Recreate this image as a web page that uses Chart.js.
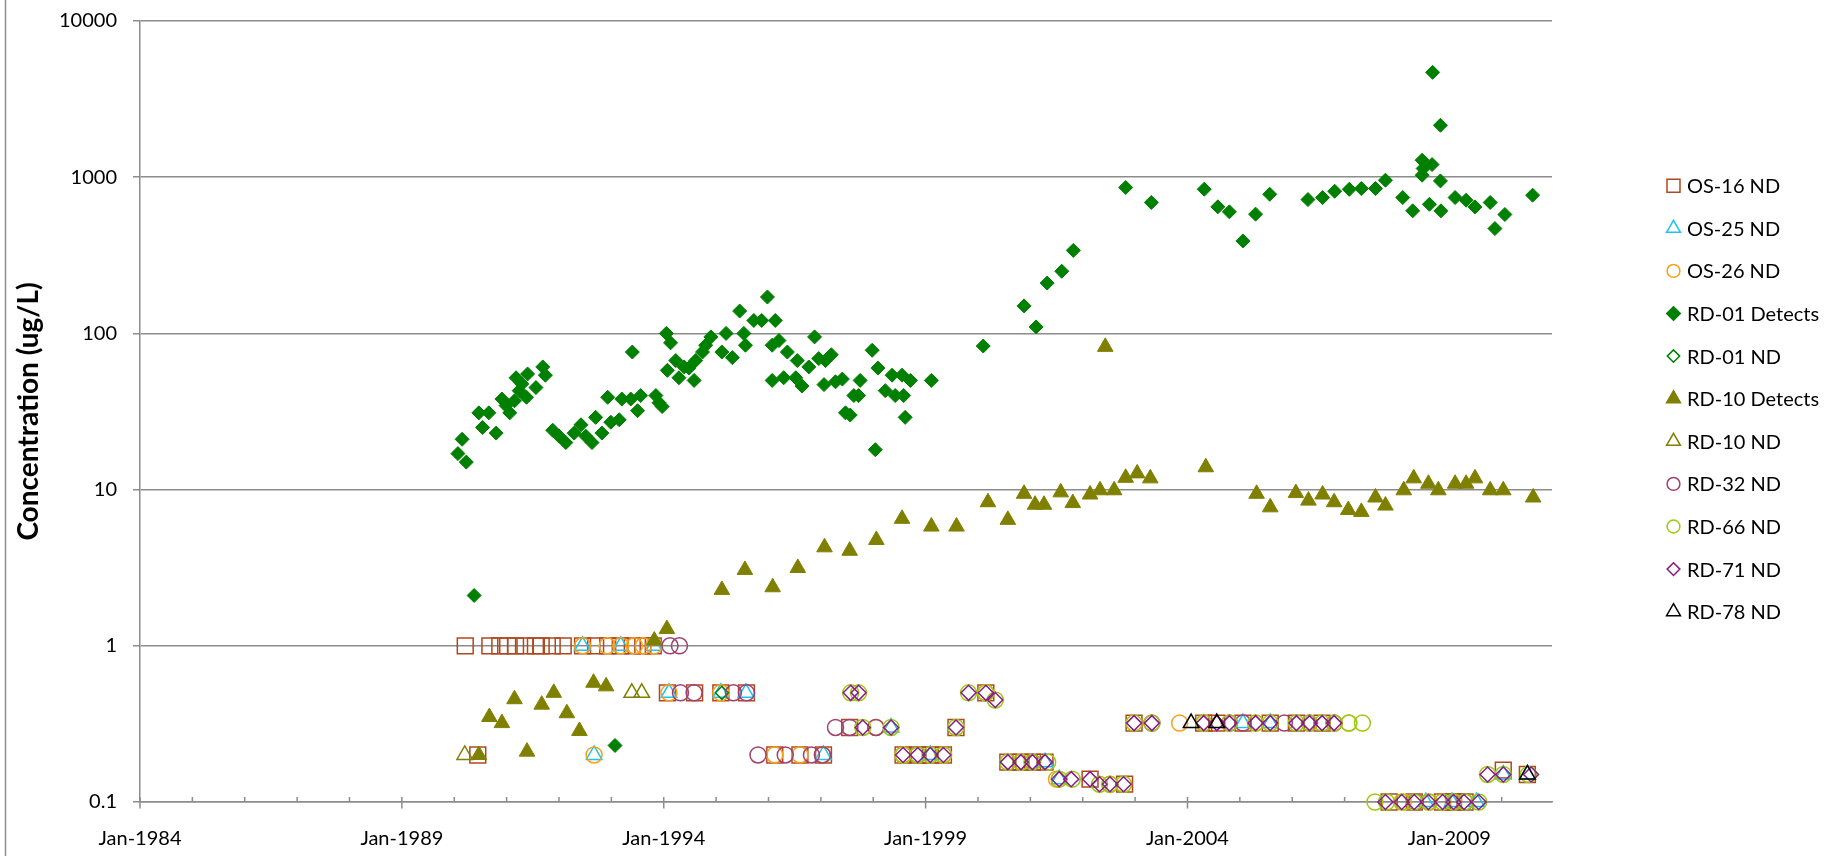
<!DOCTYPE html>
<html>
<head>
<meta charset="utf-8">
<title>Concentration</title>
<script src="https://cdn.jsdelivr.net/npm/chart.js@4.4.1/dist/chart.umd.min.js"></script>
<style>
    html, body { margin: 0; padding: 0; background: #ffffff; }
    #wrap { position: relative; width: 1835px; height: 856px; }
</style>
</head>
<body>
<div id="wrap"><canvas id="chart" width="1835" height="856"></canvas></div>
<script>
///////////////////////////////////////////////////////////////
//////////////////////// Data (read off) //////////////////////

// x = decimal year, y = concentration in ug/L
const os16Nd = [
    [1990.21, 1], [1990.68, 1], [1990.87, 1], [1991.02, 1], [1991.17, 1], [1991.35, 1], [1991.55, 1], [1991.66, 1],
    [1991.87, 1], [1992.08, 1], [1992.45, 1], [1992.70, 1], [1992.93, 1], [1993.17, 1], [1993.40, 1], [1993.60, 1],
    [1993.80, 1], [1990.45, 0.2], [1994.07, 0.5], [1994.59, 0.5], [1995.09, 0.5], [1995.58, 0.5],
    [1996.12, 0.2], [1996.60, 0.2], [1997.05, 0.2], [1997.55, 0.3], [1998.57, 0.2], [1998.85, 0.2], [1999.09, 0.2],
    [1999.34, 0.2], [1999.58, 0.3], [2000.15, 0.5], [2000.57, 0.18], [2000.82, 0.18], [2001.04, 0.18], [2001.28, 0.18],
    [2002.14, 0.14], [2002.80, 0.13], [2002.98, 0.32], [2004.31, 0.32], [2004.56, 0.32], [2005.06, 0.32], [2005.58, 0.32],
    [2006.08, 0.32], [2006.57, 0.32], [2007.85, 0.1], [2008.33, 0.1], [2008.87, 0.1], [2009.08, 0.1], [2009.30, 0.1],
    [2010.03, 0.16], [2010.49, 0.15]
];
const os25Nd = [
    [1992.45, 1], [1993.18, 1], [1993.81, 1], [1992.67, 0.2], [1994.10, 0.5], [1995.09, 0.5], [1995.57, 0.5],
    [1997.05, 0.2], [1998.34, 0.3], [1999.09, 0.2], [2001.28, 0.18], [2001.55, 0.14], [2005.06, 0.32], [2005.58, 0.32],
    [2008.55, 0.1], [2009.05, 0.1], [2009.52, 0.1], [2010.03, 0.15], [2010.49, 0.15]
];
const os26Nd = [
    [1992.45, 1], [1992.92, 1], [1993.18, 1], [1993.44, 1], [1993.61, 1], [1993.81, 1], [1992.67, 0.2], [1994.10, 0.5],
    [1995.09, 0.5], [1996.12, 0.2], [1996.60, 0.2], [1997.03, 0.2], [1998.05, 0.3], [1998.57, 0.2], [1999.34, 0.2],
    [2000.15, 0.5], [2000.82, 0.18], [2001.50, 0.14], [2002.52, 0.13], [2003.85, 0.32], [2004.31, 0.32], [2005.30, 0.32],
    [2007.08, 0.32], [2008.12, 0.1], [2008.62, 0.1]
];
const rd01Detects = [
    [1990.07, 17], [1990.15, 21], [1990.23, 15], [1990.38, 2.1], [1990.47, 31], [1990.54, 25], [1990.66, 31], [1990.80, 23],
    [1990.91, 38], [1990.99, 34.5], [1991.06, 31], [1991.15, 37], [1991.18, 52], [1991.24, 43], [1991.29, 47.5], [1991.38, 39],
    [1991.40, 55], [1991.56, 45], [1991.69, 61], [1991.74, 54], [1991.88, 24], [1992.00, 22], [1992.13, 20], [1992.29, 23],
    [1992.42, 26], [1992.51, 22], [1992.63, 20], [1992.70, 29], [1992.82, 23], [1992.93, 39], [1992.99, 27], [1993.07, 0.23],
    [1993.15, 28], [1993.20, 38], [1993.37, 38], [1993.40, 76], [1993.50, 32], [1993.56, 40], [1993.85, 40], [1993.91, 36],
    [1993.97, 34], [1994.05, 100], [1994.07, 58], [1994.13, 87], [1994.23, 67], [1994.29, 52], [1994.39, 61], [1994.48, 60],
    [1994.58, 50], [1994.61, 67], [1994.74, 76], [1994.80, 84], [1994.90, 95], [1995.11, 76], [1995.19, 100], [1995.31, 70],
    [1995.45, 139], [1995.53, 100], [1995.56, 84], [1995.72, 121], [1995.87, 121], [1995.98, 171], [1996.07, 84], [1996.07, 50],
    [1996.13, 121], [1996.20, 90], [1996.29, 52], [1996.36, 76], [1996.52, 52], [1996.55, 67], [1996.64, 46], [1996.77, 61],
    [1996.88, 95], [1996.96, 69], [1997.06, 47], [1997.09, 67], [1997.20, 73], [1997.28, 49], [1997.41, 51], [1997.47, 31],
    [1997.56, 30], [1997.63, 40], [1997.72, 40], [1997.75, 50], [1997.98, 78], [1998.04, 18], [1998.09, 60], [1998.23, 43],
    [1998.36, 54], [1998.42, 40], [1998.55, 54], [1998.58, 40], [1998.61, 29], [1998.71, 50], [1999.11, 50],
    [2000.10, 83], [2000.88, 150], [2001.11, 110], [2001.32, 210], [2001.60, 250], [2001.82, 340], [2002.82, 859],
    [2003.31, 689], [2004.32, 838], [2004.58, 646], [2004.80, 600], [2005.06, 391], [2005.30, 580], [2005.57, 778],
    [2006.30, 719], [2006.58, 741], [2006.81, 813], [2007.09, 837], [2007.32, 846], [2007.59, 846], [2007.78, 957],
    [2008.11, 741], [2008.30, 609], [2008.48, 1285], [2008.48, 1030], [2008.50, 1137], [2008.67, 1205], [2008.62, 671],
    [2008.68, 4690], [2008.83, 2150], [2008.83, 947], [2008.84, 609], [2009.11, 741], [2009.32, 712], [2009.49, 645],
    [2009.78, 689], [2009.87, 469], [2010.06, 577], [2010.59, 767]
];
const rd01Nd = [[1995.11, 0.5]];
const rd10Detects = [
    [1990.47, 0.2], [1990.67, 0.35], [1990.91, 0.32], [1991.15, 0.455], [1991.39, 0.21], [1991.67, 0.42], [1991.90, 0.5],
    [1992.15, 0.37], [1992.39, 0.285], [1992.66, 0.58], [1992.90, 0.55], [1993.82, 1.08], [1994.06, 1.28], [1995.11, 2.28],
    [1995.55, 3.06], [1996.08, 2.37], [1996.56, 3.15], [1997.07, 4.27], [1997.55, 4.06], [1998.06, 4.76], [1998.55, 6.5],
    [1999.11, 5.8], [1999.59, 5.8], [2000.19, 8.3], [2000.57, 6.4], [2000.88, 9.4], [2001.09, 8.0], [2001.26, 8.0],
    [2001.58, 9.6], [2001.81, 8.2], [2002.14, 9.3], [2002.33, 9.9], [2002.43, 82], [2002.60, 9.9], [2002.82, 11.9],
    [2003.04, 12.7], [2003.29, 11.8], [2004.35, 13.9], [2005.32, 9.4], [2005.58, 7.7], [2006.07, 9.5], [2006.31, 8.5],
    [2006.58, 9.3], [2006.80, 8.3], [2007.07, 7.4], [2007.32, 7.2], [2007.59, 8.9], [2007.78, 7.9], [2008.13, 9.9],
    [2008.32, 11.8], [2008.60, 10.9], [2008.79, 9.9], [2009.11, 10.9], [2009.32, 10.9], [2009.49, 11.8], [2009.78, 9.9],
    [2010.03, 9.9], [2010.60, 8.9]
];
const rd10Nd = [[1990.20, 0.2], [1993.39, 0.5], [1993.58, 0.5]];
const rd32Nd = [
    [1994.12, 1], [1994.30, 1], [1994.32, 0.5], [1994.58, 0.5], [1995.33, 0.5], [1995.58, 0.5], [1995.80, 0.2], [1996.32, 0.2],
    [1996.82, 0.2], [1997.03, 0.2], [1997.28, 0.3], [1997.55, 0.3], [1998.05, 0.3], [1998.85, 0.2], [2001.04, 0.18],
    [2003.32, 0.32], [2004.80, 0.32], [2005.06, 0.32], [2005.85, 0.32], [2006.33, 0.32], [2006.80, 0.32],
    [2008.35, 0.1], [2009.30, 0.1]
];
const rd66Nd = [
    [1997.57, 0.5], [1997.72, 0.5], [1997.80, 0.3], [1998.34, 0.3], [1998.57, 0.2], [1998.85, 0.2], [1999.09, 0.2],
    [1999.34, 0.2], [1999.58, 0.3], [1999.82, 0.5], [2000.15, 0.5], [2000.33, 0.45], [2000.57, 0.18], [2000.82, 0.18],
    [2001.04, 0.18], [2001.33, 0.18], [2001.55, 0.14], [2001.80, 0.14], [2002.32, 0.13], [2002.52, 0.13], [2002.78, 0.13],
    [2002.98, 0.32], [2003.32, 0.32], [2004.31, 0.32], [2004.80, 0.32], [2005.30, 0.32], [2005.58, 0.32], [2006.08, 0.32],
    [2006.33, 0.32], [2006.57, 0.32], [2006.80, 0.32], [2007.08, 0.32], [2007.34, 0.32], [2007.58, 0.1], [2007.80, 0.1],
    [2008.09, 0.1], [2008.33, 0.1], [2008.60, 0.1], [2008.87, 0.1], [2009.08, 0.1], [2009.30, 0.1], [2009.56, 0.1],
    [2009.73, 0.15], [2010.03, 0.15], [2010.51, 0.15]
];
const rd71Nd = [
    [1997.57, 0.5], [1997.72, 0.5], [1997.80, 0.3], [1998.34, 0.3], [1998.57, 0.2], [1998.85, 0.2], [1999.09, 0.2],
    [1999.34, 0.2], [1999.58, 0.3], [1999.82, 0.5], [2000.15, 0.5], [2000.33, 0.45], [2000.57, 0.18], [2000.82, 0.18],
    [2001.04, 0.18], [2001.28, 0.18], [2001.55, 0.14], [2001.78, 0.14], [2002.14, 0.14], [2002.32, 0.13], [2002.52, 0.13],
    [2002.78, 0.13], [2002.98, 0.32], [2003.32, 0.32], [2004.31, 0.32], [2004.56, 0.32], [2004.80, 0.32], [2005.30, 0.32],
    [2005.58, 0.32], [2006.08, 0.32], [2006.33, 0.32], [2006.57, 0.32], [2006.80, 0.32], [2007.78, 0.1], [2008.09, 0.1],
    [2008.33, 0.1], [2008.60, 0.1], [2008.87, 0.1], [2009.08, 0.1], [2009.28, 0.1], [2009.56, 0.1], [2009.73, 0.15],
    [2010.03, 0.15], [2010.56, 0.15]
];
const rd78Nd = [[2004.07, 0.32], [2004.56, 0.32], [2010.49, 0.15]];

const seriesNames = ["OS-16 ND", "OS-25 ND", "OS-26 ND", "RD-01 Detects", "RD-01 ND", "RD-10 Detects",
                     "RD-10 ND", "RD-32 ND", "RD-66 ND", "RD-71 ND", "RD-78 ND"];
const seriesData = [os16Nd, os25Nd, os26Nd, rd01Detects, rd01Nd, rd10Detects, rd10Nd, rd32Nd, rd66Nd, rd71Nd, rd78Nd];

const yTickValues = [0.1, 1, 10, 100, 1000, 10000];
const xTickYears = [];   // one tick per year, label every 5 years
for (let yr = 1984; yr <= 2010; yr++) xTickYears.push(yr);


///////////////////////////////////////////////////////////////
///////////////////////// Styles //////////////////////////////

const colors  = ["#B0481E", "#1FC3F3", "#F9A01B", "#008000", "#008000", "#808000",
                 "#808000", "#A0416E", "#9BCB0F", "#8B1A8B", "#000000"];
const shapes  = ["rect", "triangle", "circle", "rectRot", "rectRot", "triangle",
                 "triangle", "circle", "circle", "rectRot", "triangle"];
const filled  = [false, false, false, true, false, true, false, false, false, false, false];
const radii   = [11.2, 9, 8, 7, 6.5, 9, 9, 8, 8, 7.5, 9];       // marker size on the plot
const legendR = [9.2, 8, 6.4, 6.8, 6.2, 8, 8, 6.4, 6.4, 6.4, 8];  // marker size in the legend

const GRID = "#8C8C8C";
const FONT = "Lato, 'Open Sans', sans-serif";


///////////////////////////////////////////////////////////////
//////////////////////// Plugins //////////////////////////////

// thin frame line on the far left of the picture
const leftFrame = {
    id: "leftFrame",
    beforeDraw(chart) {
        const ctx = chart.ctx;
        ctx.save();
        ctx.strokeStyle = GRID;
        ctx.lineWidth = 1.5;
        ctx.beginPath();
        ctx.moveTo(5.5, 0);
        ctx.lineTo(5.5, chart.height);
        ctx.stroke();
        ctx.restore();
    }
};

// year ticks on the date axis: minor inside, major crossing
const yearTicks = {
    id: "yearTicks",
    beforeDatasetsDraw(chart) {
        const {ctx, chartArea} = chart;
        const xs = chart.scales.x;
        ctx.save();
        ctx.strokeStyle = GRID;
        ctx.lineWidth = 1.5;
        xs.ticks.forEach(t => {
            const px = xs.getPixelForValue(t.value);
            const major = (t.value - 1984) % 5 === 0;
            ctx.beginPath();
            ctx.moveTo(px, chartArea.bottom - 5);
            ctx.lineTo(px, chartArea.bottom + (major ? 6.5 : 0));
            ctx.stroke();
        });
        ctx.restore();
    }
};

// legend on the right side, drawn with the library's point helper
const sideLegend = {
    id: "sideLegend",
    afterDraw(chart) {
        const ctx = chart.ctx;
        ctx.save();
        ctx.font = "20px " + FONT;
        ctx.textBaseline = "middle";
        seriesNames.forEach((name, i) => {
            const y = 185.7 + i * 42.6;
            ctx.strokeStyle = colors[i];
            ctx.fillStyle = filled[i] ? colors[i] : "rgba(0,0,0,0)";
            ctx.lineWidth = 1.5;
            Chart.helpers.drawPoint(ctx, {pointStyle: shapes[i], radius: legendR[i], borderWidth: 1.5}, 1673.5, y);
            ctx.fillStyle = "#000000";
            ctx.fillText(name, 1687, y + 1);
        });
        ctx.restore();
    }
};


///////////////////////////////////////////////////////////////
///////////////////////// Chart ///////////////////////////////

const datasets = seriesNames.map((name, i) => ({
    label: name,
    data: seriesData[i].map(p => ({x: p[0], y: p[1]})),
    pointStyle: shapes[i],
    pointRadius: radii[i],
    pointHoverRadius: radii[i],
    pointBorderWidth: filled[i] ? 1 : 1.5,
    pointBorderColor: colors[i],
    pointBackgroundColor: filled[i] ? colors[i] : "rgba(0,0,0,0)",
    showLine: false,
    clip: false,
    order: seriesNames.length - 1 - i   // later series on top, like the original
}));

new Chart(document.getElementById("chart").getContext("2d"), {
    type: "scatter",
    data: {datasets: datasets},
    options: {
        responsive: false,
        animation: false,
        events: [],
        layout: {padding: {left: 0, top: 21, right: 283, bottom: 0}},
        plugins: {
            legend: {display: false},
            tooltip: {enabled: false}
        },
        scales: {
            x: {
                type: "linear",
                min: 1984,
                max: 2010.96,
                afterBuildTicks: s => { s.ticks = xTickYears.map(v => ({value: v})); },
                afterFit: s => { s.height = 54; s.paddingLeft = 0; s.paddingRight = 0; },
                grid: {display: false, drawTicks: false},
                border: {display: true, color: GRID, width: 1.5},
                ticks: {
                    autoSkip: false,
                    maxRotation: 0,
                    padding: 25,
                    color: "#000000",
                    font: {family: FONT, size: 20},
                    callback: v => ((v - 1984) % 5 === 0 ? "Jan-" + v : "")
                }
            },
            y: {
                type: "logarithmic",
                min: 0.1,
                max: 10000,
                afterBuildTicks: s => { s.ticks = yTickValues.map(v => ({value: v})); },
                // fixed width; drop the label overflow padding so the plot top stays at the layout padding
                afterFit: s => { s.width = 140; s.paddingTop = 0; s.paddingBottom = 0; },
                grid: {color: GRID, lineWidth: 1.5, drawTicks: true, tickLength: 7},
                border: {display: true, color: GRID, width: 1.5},
                ticks: {
                    padding: 16,
                    color: "#000000",
                    font: {family: FONT, size: 20},
                    callback: v => String(v)
                },
                title: {
                    display: true,
                    text: "Concentration (ug/L)",
                    color: "#000000",
                    font: {family: FONT, size: 28, weight: "bold"},
                    padding: {top: 12, bottom: 0}
                }
            }
        }
    },
    plugins: [leftFrame, yearTicks, sideLegend]
});
</script>
</body>
</html>
